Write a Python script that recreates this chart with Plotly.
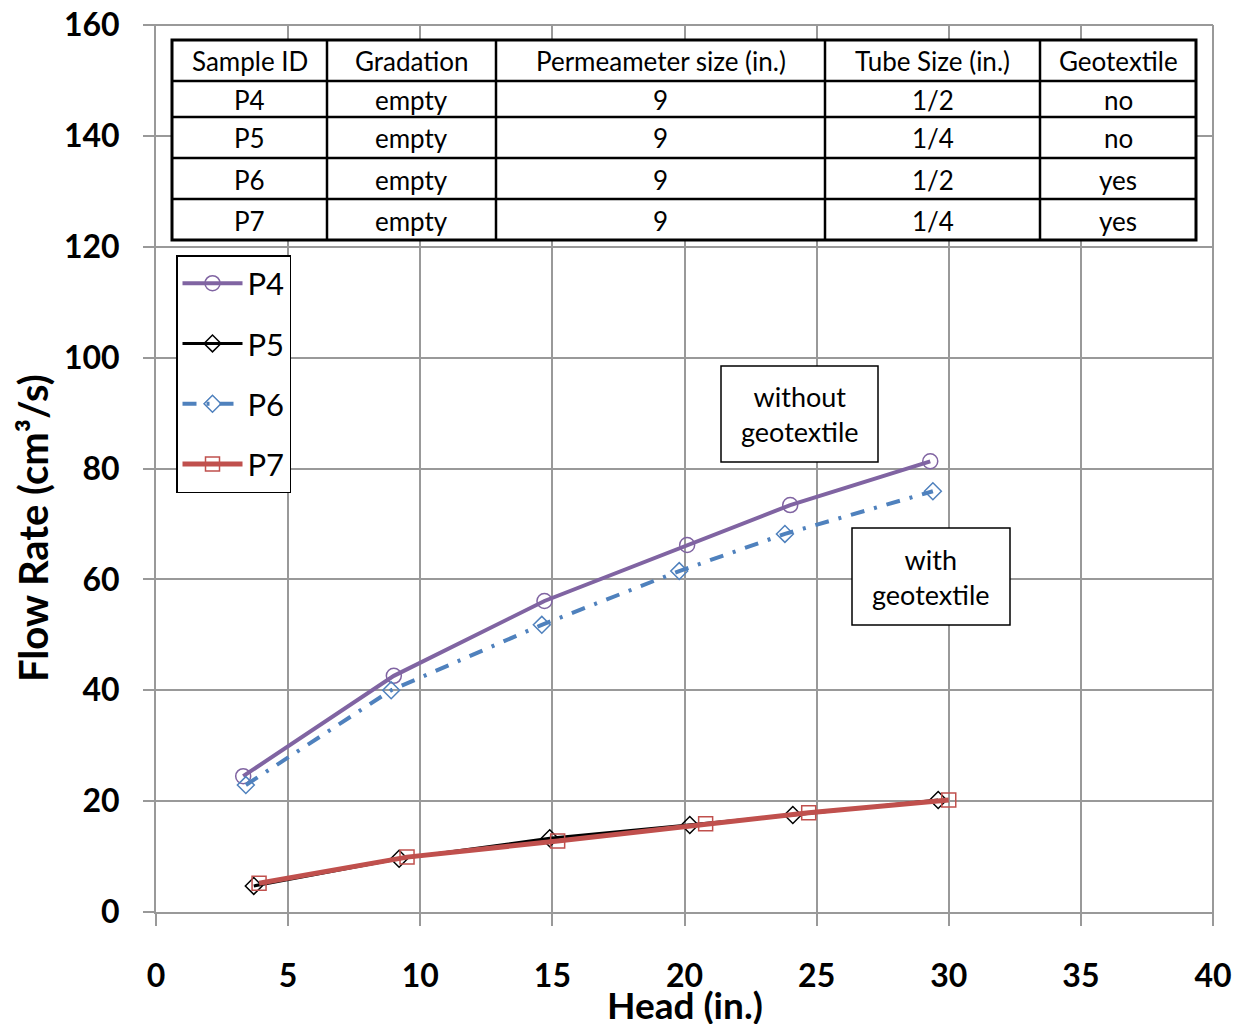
import plotly.graph_objects as go

# ---- data ----
p4_x = [3.3, 9.0, 14.7, 20.1, 24.0, 29.3]
p4_y = [24.5, 42.6, 56.1, 66.2, 73.4, 81.3]
p5_x = [3.7, 9.2, 14.9, 20.2, 24.1, 29.6]
p5_y = [4.7, 9.6, 13.3, 15.7, 17.5, 20.2]
p6_x = [3.4, 8.9, 14.6, 19.8, 23.8, 29.4]
p6_y = [22.9, 40.0, 51.8, 61.5, 68.2, 75.9]
p7_x = [3.9, 9.5, 15.2, 20.8, 24.7, 30.0]
p7_y = [5.2, 9.9, 12.8, 15.9, 17.9, 20.2]

table_header = ["Sample ID", "Gradation", "Permeameter size (in.)", "Tube Size (in.)", "Geotextile"]
table_rows = [
    ["P4", "empty", "9", "1/2", "no"],
    ["P5", "empty", "9", "1/4", "no"],
    ["P6", "empty", "9", "1/2", "yes"],
    ["P7", "empty", "9", "1/4", "yes"],
]

x_ticks = [0, 5, 10, 15, 20, 25, 30, 35, 40]
y_ticks = [0, 20, 40, 60, 80, 100, 120, 140, 160]

FONT = "Lato, Calibri, Carlito, sans-serif"

# page offset (body margin) and plot area in page pixels
OFF = 8
PAGE_W, PAGE_H = 1245, 1032
X0, X1, Y0, Y1 = 156, 1213, 25, 912  # plot area in page pixels
W, H = PAGE_W - 2 * OFF, PAGE_H - 2 * OFF
L, T = X0 - OFF, Y0 - OFF
R, B = W - (X1 - OFF), H - (Y1 - OFF)

def px(xp):
    return (xp - X0) / (X1 - X0)

def py(yp):
    return (Y1 - yp) / (Y1 - Y0)

fig = go.Figure()
fig.add_trace(go.Scatter(x=p4_x, y=p4_y, name="P4", mode="lines+markers", legendgroup="a",
                         line=dict(color="#8064A2", width=4),
                         marker=dict(symbol="circle-open", size=15, color="#8064A2", line=dict(width=1.5))))
fig.add_trace(go.Scatter(x=p5_x, y=p5_y, name="P5", mode="lines+markers", legendgroup="b",
                         line=dict(color="#000000", width=3),
                         marker=dict(symbol="diamond-open", size=13, color="#000000", line=dict(width=1.5))))
fig.add_trace(go.Scatter(x=p6_x, y=p6_y, name="P6", mode="lines+markers", legendgroup="c",
                         line=dict(color="#4F81BD", width=4, dash="14px,10px,3px,10px"),
                         marker=dict(symbol="diamond-open", size=13, color="#4F81BD", line=dict(width=1.5))))
fig.add_trace(go.Scatter(x=p7_x, y=p7_y, name="P7", mode="lines+markers", legendgroup="d",
                         line=dict(color="#C0504D", width=5),
                         marker=dict(symbol="square-open", size=14, color="#C0504D", line=dict(width=1.5))))

grid_color = "#999999"
shapes = []
annotations = []

# top and right frame lines (gridlines at the range ends)
shapes.append(dict(type="line", xref="paper", yref="paper", x0=px(145), x1=1, y0=1, y1=1,
                   line=dict(color=grid_color, width=2), layer="below"))
shapes.append(dict(type="line", xref="paper", yref="paper", x0=1, x1=1, y0=py(924), y1=1,
                   line=dict(color=grid_color, width=2), layer="below"))

# table
col_edges = [172, 327, 496, 825, 1040, 1196]
row_edges = [40, 81, 117, 158, 199, 240]
shapes.append(dict(type="rect", xref="paper", yref="paper", x0=px(col_edges[0]), x1=px(col_edges[-1]),
                   y0=py(row_edges[-1]), y1=py(row_edges[0]), fillcolor="white",
                   line=dict(color="black", width=3), layer="above"))
for c in col_edges[1:-1]:
    shapes.append(dict(type="line", xref="paper", yref="paper", x0=px(c), x1=px(c),
                       y0=py(row_edges[-1]), y1=py(row_edges[0]), line=dict(color="black", width=2.5)))
for r in row_edges[1:-1]:
    shapes.append(dict(type="line", xref="paper", yref="paper", x0=px(col_edges[0]), x1=px(col_edges[-1]),
                       y0=py(r), y1=py(r), line=dict(color="black", width=2.5)))
all_rows = [table_header] + table_rows
for i, row in enumerate(all_rows):
    yc = (row_edges[i] + row_edges[i + 1]) / 2 + 1
    for j, txt in enumerate(row):
        xc = (col_edges[j] + col_edges[j + 1]) / 2
        annotations.append(dict(x=px(xc), y=py(yc), xref="paper", yref="paper", text=txt,
                                showarrow=False, font=dict(family=FONT, size=26, color="black"),
                                xanchor="center", yanchor="middle"))

# text boxes
for txt, bx0, bx1, by0, by1 in [("without<br>geotextile", 721, 878, 366, 462),
                                ("with<br>geotextile", 852, 1010, 528, 625)]:
    shapes.append(dict(type="rect", xref="paper", yref="paper", x0=px(bx0), x1=px(bx1),
                       y0=py(by1), y1=py(by0), fillcolor="white", line=dict(color="black", width=1.5),
                       layer="above"))
    annotations.append(dict(x=px((bx0 + bx1) / 2), y=py((by0 + by1) / 2), xref="paper", yref="paper",
                            text=txt, showarrow=False, font=dict(family=FONT, size=27, color="black"),
                            xanchor="center", yanchor="middle"))

# axis titles
annotations.append(dict(x=px(685), y=py(1004), xref="paper", yref="paper", text="<b>Head (in.)</b>",
                        showarrow=False, font=dict(family=FONT, size=37, color="black"),
                        xanchor="center", yanchor="middle"))
annotations.append(dict(x=px(33), y=py(528), xref="paper", yref="paper", text="<b>Flow Rate (cm³/s)</b>",
                        showarrow=False, textangle=-90, font=dict(family=FONT, size=40, color="black"),
                        xanchor="center", yanchor="middle"))

fig.update_layout(
    width=W, height=H,
    margin=dict(l=L, r=R, t=T, b=B, autoexpand=False),
    plot_bgcolor="white", paper_bgcolor="white",
    font=dict(family=FONT, color="black"),
    shapes=shapes, annotations=annotations,
    showlegend=True,
    legend=dict(x=px(176), y=py(255), xanchor="left", yanchor="top",
                bordercolor="black", borderwidth=1.5, bgcolor="white",
                font=dict(family=FONT, size=31, color="black"),
                itemwidth=60, tracegroupgap=17),
    xaxis=dict(range=[0, 40], tickvals=x_ticks, ticktext=[str(v) for v in x_ticks],
               showgrid=True, gridcolor=grid_color, gridwidth=2,
               showline=True, linecolor=grid_color, linewidth=2,
               ticks="outside", ticklen=12, tickcolor=grid_color, tickwidth=2,
               ticklabelstandoff=23, automargin=False, ticklabeloverflow="allow",
               tickfont=dict(family=FONT, size=32, color="black", weight="bold"),
               zeroline=False),
    yaxis=dict(range=[0, 160], tickvals=y_ticks, ticktext=[str(v) for v in y_ticks],
               showgrid=True, gridcolor=grid_color, gridwidth=2,
               showline=True, linecolor=grid_color, linewidth=2,
               ticks="outside", ticklen=11, tickcolor=grid_color, tickwidth=2,
               ticklabelstandoff=17, automargin=False, ticklabeloverflow="allow",
               tickfont=dict(family=FONT, size=32, color="black", weight="bold"),
               zeroline=False),
)

fig.write_html("out.html")
